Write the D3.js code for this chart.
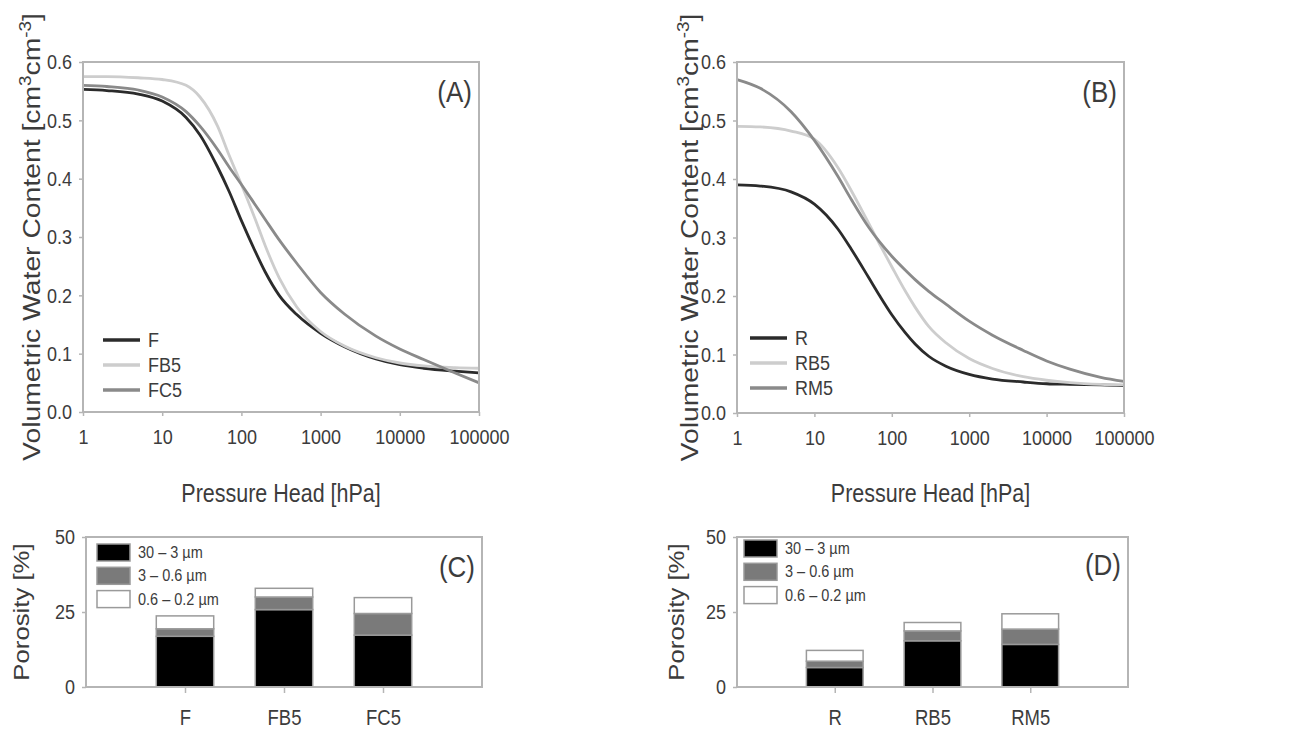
<!DOCTYPE html>
<html>
<head>
<meta charset="utf-8">
<script src="https://cdn.jsdelivr.net/npm/d3@7"></script>
<style>
    body { margin: 0; background: #fff; }
    svg text { font-family: "Liberation Sans", Arial, sans-serif; fill: #3c3c3c; }
</style>
</head>
<body>
<svg id="chart" width="1289" height="731"></svg>
<script>

var pressureHead = [1, 2, 5, 10, 20, 30, 50, 70, 100, 150, 200, 300, 500, 1000, 2000, 5000, 10000, 20000, 50000, 100000];

// panel A
var thetaF   = [0.553, 0.551, 0.545, 0.533, 0.505, 0.475, 0.42, 0.378, 0.328, 0.275, 0.24, 0.20, 0.167, 0.135, 0.112, 0.091, 0.081, 0.075, 0.070, 0.067];
var thetaFB5 = [0.575, 0.575, 0.573, 0.570, 0.560, 0.540, 0.49, 0.44, 0.39, 0.33, 0.285, 0.23, 0.18, 0.138, 0.113, 0.093, 0.084, 0.079, 0.076, 0.075];
var thetaFC5 = [0.560, 0.558, 0.552, 0.540, 0.515, 0.490, 0.45, 0.42, 0.39, 0.355, 0.33, 0.295, 0.255, 0.205, 0.168, 0.130, 0.108, 0.090, 0.067, 0.050];

// panel B
var thetaR   = [0.390, 0.388, 0.378, 0.357, 0.315, 0.280, 0.232, 0.200, 0.168, 0.137, 0.118, 0.097, 0.080, 0.066, 0.058, 0.053, 0.050, 0.049, 0.048, 0.047];
var thetaRB5 = [0.490, 0.489, 0.482, 0.468, 0.420, 0.380, 0.325, 0.288, 0.250, 0.208, 0.181, 0.148, 0.120, 0.093, 0.076, 0.062, 0.056, 0.052, 0.049, 0.048];
var thetaRM5 = [0.570, 0.555, 0.515, 0.466, 0.405, 0.365, 0.318, 0.292, 0.268, 0.244, 0.228, 0.208, 0.186, 0.157, 0.133, 0.107, 0.089, 0.075, 0.061, 0.054];

var thetaTicks = [0, 0.1, 0.2, 0.3, 0.4, 0.5, 0.6];
var headTicks = [1, 10, 100, 1000, 10000, 100000];

// porosity per pore class [%]
var poreClasses = ["30 \u2013 3 \u00b5m", "3 \u2013 0.6 \u00b5m", "0.6 \u2013 0.2 \u00b5m"];
var catsC = ["F", "FB5", "FC5"];
var poreC_30_3  = [16.9, 25.8, 17.3];
var poreC_3_06  = [2.5, 4.2, 7.2];
var poreC_06_02 = [4.3, 2.9, 5.3];
var catsD = ["R", "RB5", "RM5"];
var poreD_30_3  = [6.5, 15.4, 14.2];
var poreD_3_06  = [2.1, 3.3, 5.1];
var poreD_06_02 = [3.6, 2.8, 5.1];
var porosityTicks = [0, 25, 50];

var svg = d3.select('#chart');
var SY = 1.17; // the figure is a bit stretched vertically
var FRAME = '#b5b5b5';

function label(g, x, y, str, size, anchor, rot, sy) {
    var t = g.append('text')
        .attr('transform', 'translate(' + x + ',' + y + ') scale(1,' + (sy || SY) + ')' + (rot ? ' rotate(-90)' : ''))
        .attr('font-size', size)
        .attr('text-anchor', anchor || 'start');
    t.text(str);
    return t;
}

function frame(g, x0, x1, y0, y1) {
    g.append('rect')
        .attr('x', x0).attr('y', y0)
        .attr('width', x1 - x0).attr('height', y1 - y0)
        .attr('fill', 'none')
        .attr('stroke', FRAME)
        .attr('stroke-width', 2);
}

function styleAxis(ax) {
    ax.select('.domain').remove();
    ax.selectAll('line').attr('stroke', FRAME).attr('stroke-width', 1.5);
    ax.selectAll('text')
        .attr('font-size', 18)
        .attr('fill', '#3c3c3c')
        .attr('font-family', '"Liberation Sans", Arial, sans-serif')
        .attr('transform', 'scale(1,' + SY + ')');
}

//// retention curve panels
function drawCurvePanel(p) {
    var g = svg.append('g');

    var x = d3.scaleLog().domain([1, 100000]).range([p.x0, p.x1]);
    var y = d3.scaleLinear().domain([0, 0.6]).range([p.y1, p.y0]);

    var line = d3.line()
        .x(function (d) { return x(d[0]); })
        .y(function (d) { return y(d[1]); })
        .curve(d3.curveMonotoneX);

    p.series.forEach(function (s) {
        g.append('path')
            .datum(pressureHead.map(function (h, i) { return [h, s.values[i]]; }))
            .attr('d', line)
            .attr('fill', 'none')
            .attr('stroke', s.color)
            .attr('stroke-width', 2.8);
    });

    frame(g, p.x0, p.x1, p.y0, p.y1);

    var ay = g.append('g')
        .attr('transform', 'translate(' + p.x0 + ',0)')
        .call(d3.axisLeft(y).tickValues(thetaTicks).tickFormat(d3.format('.1f')).tickSize(4).tickPadding(7));
    styleAxis(ay);

    var ax = g.append('g')
        .attr('transform', 'translate(0,' + p.y1 + ')')
        .call(d3.axisBottom(x).tickValues(headTicks).tickFormat(d3.format('d')).tickSize(4).tickPadding(11));
    styleAxis(ax);

    // legend
    p.series.forEach(function (s, i) {
        var ly = p.legY + i * 25;
        g.append('line')
            .attr('x1', p.legX).attr('x2', p.legX + 37)
            .attr('y1', ly).attr('y2', ly)
            .attr('stroke', s.color).attr('stroke-width', 3.5);
        label(g, p.legX + 45, ly + 6.5, s.name, 18);
    });

    label(g, p.x1 - 7, p.y0 + 40, p.tag, 26, 'end');

    label(g, (p.x0 + p.x1) / 2, 502, 'Pressure Head [hPa]', 21.5, 'middle');

    var t = label(g, p.titleX, (p.y0 + p.y1) / 2, '', 24, 'middle', true, 1.18);
    t.append('tspan').text('Volumetric Water Content [cm');
    t.append('tspan').attr('font-size', 16).attr('dy', -9).text('3');
    t.append('tspan').attr('dy', 9).text('cm');
    t.append('tspan').attr('font-size', 16).attr('dy', -9).text('-3');
    t.append('tspan').attr('dy', 9).text(']');
}

//// stacked bar panels
function drawBarPanel(p) {
    var g = svg.append('g');

    var x = d3.scaleLinear().domain([0, 4]).range([p.x0, p.x1]);
    var y = d3.scaleLinear().domain([0, 50]).range([p.y1, p.y0]);

    var rows = p.cats.map(function (c, i) {
        return { cat: c, pos: i + 1, a: p.a[i], b: p.b[i], c: p.c[i] };
    });
    var stack = d3.stack().keys(['a', 'b', 'c'])(rows);
    var fills = ['#000000', '#7a7a7a', '#ffffff'];
    var bw = x(0.58) - x(0);

    stack.forEach(function (layer, k) {
        g.selectAll(null)
            .data(layer)
            .enter().append('rect')
            .attr('x', function (d) { return x(d.data.pos) - bw / 2; })
            .attr('y', function (d) { return y(d[1]); })
            .attr('width', bw)
            .attr('height', function (d) { return y(d[0]) - y(d[1]); })
            .attr('fill', fills[k])
            .attr('stroke', '#9a9a9a')
            .attr('stroke-width', 1.5);
    });

    frame(g, p.x0, p.x1, p.y0, p.y1);

    var ay = g.append('g')
        .attr('transform', 'translate(' + p.x0 + ',0)')
        .call(d3.axisLeft(y).tickValues(porosityTicks).tickSize(4).tickPadding(7));
    styleAxis(ay);

    var ax = g.append('g')
        .attr('transform', 'translate(0,' + p.y1 + ')')
        .call(d3.axisBottom(x).tickValues([1, 2, 3]).tickFormat(function (d) { return p.cats[d - 1]; }).tickSize(6).tickPadding(13.5));
    styleAxis(ax);
    ax.selectAll('text').attr('font-size', 18.5);

    // legend
    poreClasses.forEach(function (name, i) {
        var ly = p.legY + i * 23.3;
        g.append('rect')
            .attr('x', p.legX).attr('y', ly)
            .attr('width', 33).attr('height', 17)
            .attr('fill', fills[i])
            .attr('stroke', '#9a9a9a').attr('stroke-width', 1.5);
        label(g, p.legX + 41, ly + 14, name, 14.5);
    });

    label(g, p.x1 - 7, p.tagY, p.tag, 26, 'end');

    label(g, p.titleX, (p.y0 + p.y1) / 2, 'Porosity [%]', 22, 'middle', true);
}

drawCurvePanel({
    x0: 83, x1: 479, y0: 62, y1: 412,
    titleX: 40, legX: 103, legY: 340, tag: '(A)',
    series: [
        { name: 'F', values: thetaF, color: '#2b2b2b' },
        { name: 'FB5', values: thetaFB5, color: '#cdcdcd' },
        { name: 'FC5', values: thetaFC5, color: '#8a8a8a' }
    ]
});

drawCurvePanel({
    x0: 737, x1: 1124, y0: 62, y1: 413,
    titleX: 698, legX: 750, legY: 338, tag: '(B)',
    series: [
        { name: 'R', values: thetaR, color: '#2b2b2b' },
        { name: 'RB5', values: thetaRB5, color: '#cdcdcd' },
        { name: 'RM5', values: thetaRM5, color: '#8a8a8a' }
    ]
});

drawBarPanel({
    x0: 86, x1: 482, y0: 537, y1: 687,
    cats: catsC, a: poreC_30_3, b: poreC_3_06, c: poreC_06_02,
    titleX: 29, legX: 97, legY: 544, tag: '(C)', tagY: 577
});

drawBarPanel({
    x0: 737, x1: 1128, y0: 537, y1: 687,
    cats: catsD, a: poreD_30_3, b: poreD_3_06, c: poreD_06_02,
    titleX: 684, legX: 744, legY: 540, tag: '(D)', tagY: 575
});

</script>
</body>
</html>
